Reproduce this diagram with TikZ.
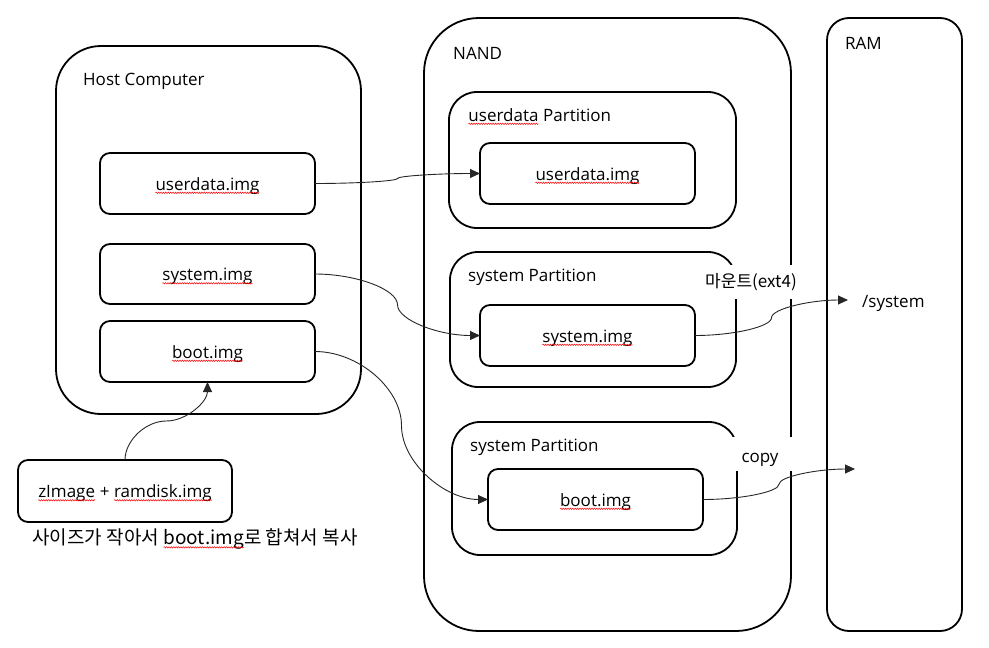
\documentclass[tikz,border=0pt]{standalone}
\usepackage{fontspec}
\setmainfont{Open Sans}
\newfontfamily\kr{Noto Sans CJK KR}
\usetikzlibrary{arrows.meta,calc,decorations.pathmorphing}

% red wavy (spell-check) underline under a word
\newcommand\sq[1]{\tikz[baseline=(sqw.base)]{\node[inner sep=0pt,outer sep=0pt,draw=none,fill=none,minimum width=0pt,minimum height=0pt,text height=,text depth=,anchor=base](sqw){#1};\draw[red,line width=0.5pt,sharp corners,decorate,decoration={snake,amplitude=0.7pt,segment length=2.4pt}]([yshift=-2.8pt]sqw.base west)--([yshift=-2.8pt]sqw.base east);}}

% curved connector, horizontal ends
\newcommand\hconn[2]{\draw[conn] let \p1=(#1), \p2=(#2) in (\p1) .. controls ({(3*\x1+\x2)/4},\y1) and ({(\x1+\x2)/2},{(3*\y1+\y2)/4}) .. ({(\x1+\x2)/2},{(\y1+\y2)/2}) .. controls ({(\x1+\x2)/2},{(\y1+3*\y2)/4}) and ({(\x1+3*\x2)/4},\y2) .. (\p2);}
% curved connector, vertical ends
\newcommand\vconn[2]{\draw[conn] let \p1=(#1), \p2=(#2) in (\p1) .. controls (\x1,{(3*\y1+\y2)/4}) and ({(3*\x1+\x2)/4},{(\y1+\y2)/2}) .. ({(\x1+\x2)/2},{(\y1+\y2)/2}) .. controls ({(\x1+3*\x2)/4},{(\y1+\y2)/2}) and (\x2,{(\y1+3*\y2)/4}) .. (\p2);}

\begin{document}
\begin{tikzpicture}[x=1pt,y=-1pt,
  txt/.style={font=\fontsize{17}{20}\selectfont},
  rbox/.style={draw,line width=1.8pt,inner sep=0pt,outer sep=0pt,rounded corners=10pt,txt},
  imgbox/.style={rbox,minimum width=215pt,minimum height=61pt,text height=15pt,text depth=2pt},
  part/.style={rbox,rounded corners=28pt},
  lbl/.style={txt,inner sep=0pt,anchor=base west},
  tag/.style={fill=white,inner sep=0pt,minimum width=96pt,minimum height=34pt,font=\kr\fontsize{17}{20}\selectfont},
  conn/.style={draw=black!85,line width=0.9pt,-{Triangle[length=10pt,width=9pt]}}]
\useasboundingbox (0,0) rectangle (989,648);

% containers
\node[rbox,rounded corners=45pt,minimum width=305pt,minimum height=368pt] (host) at (208.5,230) {};
\node[rbox,rounded corners=55pt,minimum width=367pt,minimum height=613pt] (nand) at (607.5,324.5) {};
\node[rbox,rounded corners=22pt,minimum width=135pt,minimum height=613pt] (ram) at (894.5,324.5) {};

% partitions
\node[part,minimum width=287pt,minimum height=136pt] (pud) at (592.5,160) {};
\node[part,minimum width=286pt,minimum height=135pt] (psys) at (593,319.5) {};
\node[part,minimum width=285pt,minimum height=133pt] (pboot) at (594.5,488.5) {};

% image boxes
\node[imgbox] (hud) at (207.5,183.5) {\sq{userdata.img}};
\node[imgbox,minimum height=60pt] (hsys) at (207.5,274) {\sq{system.img}};
\node[imgbox] (hboot) at (207.5,351.5) {\sq{boot.img}};
\node[imgbox] (nud) at (587.5,173.5) {\sq{userdata.img}};
\node[imgbox] (nsys) at (587.5,335.5) {\sq{system.img}};
\node[imgbox] (nboot) at (595.5,499.5) {\sq{boot.img}};
\node[imgbox,minimum width=214pt,minimum height=62pt] (zimg) at (125,491) {\sq{zImage} + \sq{ramdisk.img}};

% labels
\node[lbl] (thost) at (83,85) {Host Computer};
\node[lbl] (tnand) at (453,59) {NAND};
\node[lbl] (tram) at (845,49) {RAM};
\node[lbl] (tpud) at (468,121) {\sq{userdata} Partition};
\node[lbl] (tpsys) at (468,281) {system Partition};
\node[lbl] (tpboot) at (470,451) {system Partition};
\node[lbl] (tsys) at (862,307) {/system};
\node[inner sep=0pt,font=\kr\fontsize{19}{22}\selectfont] (cap) at (195,539) {사이즈가 작아서 \sq{boot.img}로 합쳐서 복사};

% connector labels
\node[tag] (tmount) at (751,282) {마운트(ext4)};
\node[tag,text height=16pt,text depth=0pt] (tcopy) at (760,454) {\fontspec{Open Sans}copy};

% free ends
\coordinate (mnt) at (848,300);
\coordinate (cpy) at (855,469);

% connectors
\hconn{hud.east}{nud.west}
\hconn{hsys.east}{nsys.west}
\hconn{hboot.east}{nboot.west}
\hconn{nsys.east}{mnt}
\hconn{nboot.east}{cpy}
\vconn{zimg.north}{hboot.south}
\end{tikzpicture}
\end{document}
